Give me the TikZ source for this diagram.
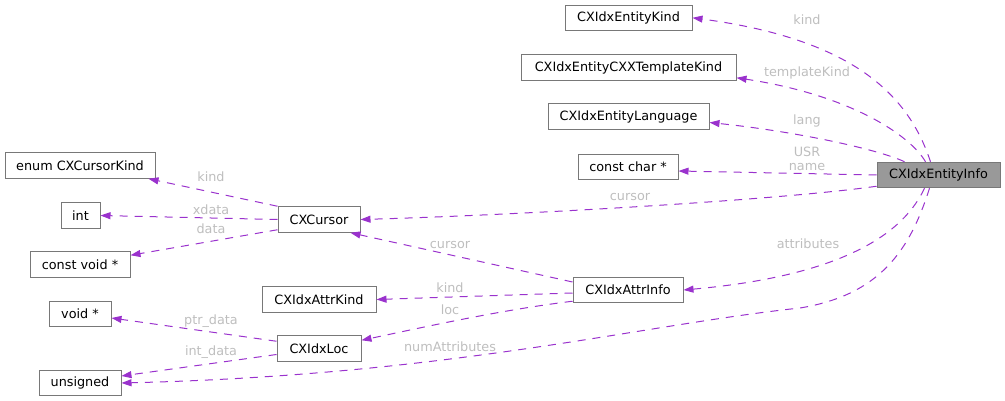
\documentclass[tikz,border=0pt]{standalone}
\usepackage{fontspec}
\setmainfont{DejaVu Sans}
\usetikzlibrary{arrows.meta, positioning, calc}
\definecolor{edgepurple}{RGB}{154,50,205}
\definecolor{boxgray}{RGB}{120,120,120}
\definecolor{lblgray}{RGB}{190,190,190}
\definecolor{focusfill}{RGB}{153,153,153}

\begin{document}
\begin{tikzpicture}[x=1pt, y=-1pt,
            every node/.style={font=\fontsize{12.8}{15}\selectfont},
            member/.style={rectangle, draw=boxgray, fill=white, line width=1pt, minimum height=25.5pt, inner sep=2pt},
            focus/.style={member, fill=focusfill},
            rel/.style={draw=edgepurple, line width=1pt, dash pattern=on 8pt off 7pt, -{Triangle[length=10pt, width=7pt]}},
            lbl/.style={text=lblgray}]

        \useasboundingbox (0,0) rectangle (1005,401);

        \node [focus, minimum width=123pt] (info) at (938.5,175) {CXIdxEntityInfo};
        \node [member, minimum width=127pt] (kindE) at (628.5,17.8) {CXIdxEntityKind};
        \node [member, minimum width=215pt] (tmplE) at (628.5,67.5) {CXIdxEntityCXXTemplateKind};
        \node [member, minimum width=161pt] (langE) at (628.5,116.5) {CXIdxEntityLanguage};
        \node [member, minimum width=100pt] (cchar) at (628,167) {const char *};
        \node [member, minimum width=110pt] (attrinfo) at (628,290) {CXIdxAttrInfo};
        \node [member, minimum width=82pt] (cursor) at (319,219.5) {CXCursor};
        \node [member, minimum width=114pt] (attrkind) at (319,299.5) {CXIdxAttrKind};
        \node [member, minimum width=84pt] (loc) at (319,348.5) {CXIdxLoc};
        \node [member, minimum width=150pt] (cursorkind) at (80,165.5) {enum CXCursorKind};
        \node [member, minimum width=39pt] (int) at (80.5,215.5) {int};
        \node [member, minimum width=100pt] (cvoid) at (80,264.5) {const void *};
        \node [member, minimum width=62pt] (voidp) at (80,314) {void *};
        \node [member, minimum width=82pt] (unsigned) at (80,383) {unsigned};

        % CXIdxEntityInfo fields
        \draw[rel] ($(info.north)+(-8,0)$) .. controls (910,100) and (860,40) .. (kindE.east);
        \draw[rel] ($(info.north)+(-13,0)$) .. controls (910,135) and (850,95) .. ($(tmplE.south east)+(0,-3)$);
        \draw[rel] ($(info.north)+(-34,0)$) .. controls (880,150) and (800,132) .. ($(langE.east)+(0,6)$);
        \draw[rel] (info.west) -- ($(cchar.east)+(0,4)$);
        \draw[rel] ($(info.south west)+(0,-2)$) .. controls (780,200) and (520,215) .. (cursor.east);
        \draw[rel] ($(info.south)+(-14,0)$) .. controls (905,230) and (850,275) .. (attrinfo.east);
        \draw[rel] ($(info.south)+(-9,0)$) .. controls (910,250) and (880,295) .. (800,308)
            .. controls (640,325) and (450,375) .. (unsigned.east);

        \node [lbl] (l-kindE) at (807,20) {kind};
        \node [lbl] (l-tmplE) at (807,73) {templateKind};
        \node [lbl] (l-langE) at (807,121) {lang};
        \node [lbl, align=center, inner sep=0pt] (l-cchar) at (807,158.5) {USR\\[-1pt]name};
        \node [lbl] (l-cursor) at (630,197) {cursor};
        \node [lbl] (l-attr) at (808,244) {attributes};
        \node [lbl] (l-num) at (450,347) {numAttributes};

        % CXIdxAttrInfo fields
        \draw[rel] ($(attrinfo.west)+(0,-8)$) -- ($(cursor.south east)+(-10,0)$);
        \draw[rel] ($(attrinfo.west)+(0,3)$) -- (attrkind.east);
        \draw[rel] ($(attrinfo.south west)+(0,-2)$) .. controls (500,310) and (420,328) .. ($(loc.north east)+(0,5)$);

        \node [lbl] (l-acursor) at (450,245) {cursor};
        \node [lbl] (l-akind) at (450,288) {kind};
        \node [lbl] (l-aloc) at (450,310) {loc};

        % CXCursor fields
        \draw[rel] (cursor.north west) -- ($(cursorkind.south east)+(-7,0)$);
        \draw[rel] (cursor.west) -- (int.east);
        \draw[rel] ($(cursor.south west)+(0,-3)$) -- ($(cvoid.north east)+(0,4)$);

        \node [lbl] (l-ckind) at (211,177) {kind};
        \node [lbl] (l-cxdata) at (211,210) {xdata};
        \node [lbl] (l-cdata) at (211,229) {data};

        % CXIdxLoc fields
        \draw[rel] ($(loc.north west)+(0,6)$) -- ($(voidp.east)+(0,4)$);
        \draw[rel] ($(loc.west)+(0,6)$) -- ($(unsigned.east)+(0,-7)$);

        \node [lbl] (l-lptr) at (211,321) {ptr\_data};
        \node [lbl] (l-lint) at (211,352) {int\_data};

    \end{tikzpicture}
\end{document}
